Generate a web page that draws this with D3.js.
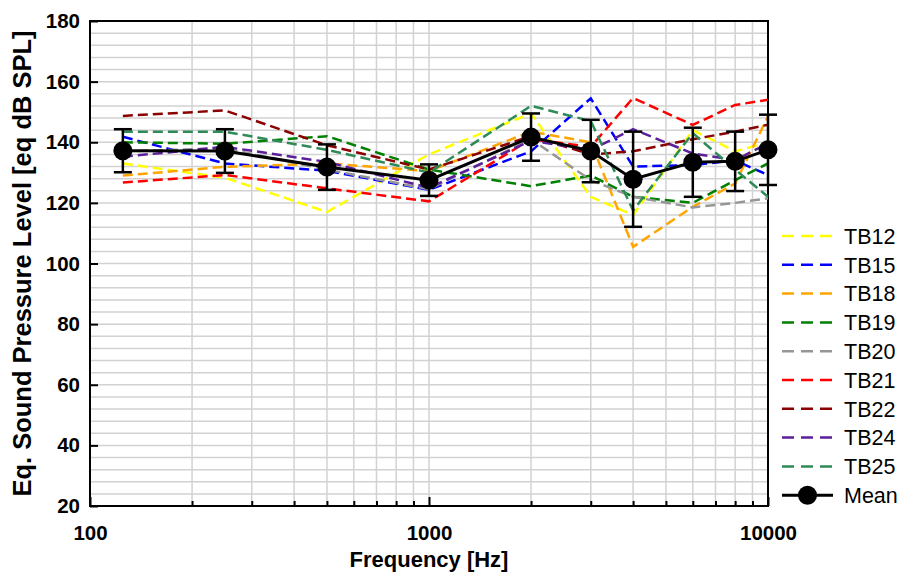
<!DOCTYPE html>
<html>
<head>
<meta charset="utf-8">
<script src="https://cdn.jsdelivr.net/npm/d3@7"></script>
<style>
  body { margin: 0; background: #fff; }
  text { font-family: Arial, "Liberation Sans", sans-serif; }
</style>
</head>
<body>
<svg id="chart" width="912" height="575"></svg>
<script>
// Test frequencies (Hz)
const freqs = [125, 250, 500, 1000, 2000, 3000, 4000, 6000, 8000, 10000];

// Equivalent SPL per subject [eq dB SPL]
const tb12 = [133.0, 128.3, 117.0, 136.0, 149.5, 122.0, 116.0, 144.0, 137.0, 140.0];
const tb15 = [141.8, 133.0, 130.6, 124.3, 137.0, 154.5, 132.0, 132.5, 134.0, 129.2];
const tb18 = [129.0, 131.9, 133.0, 130.5, 143.5, 140.0, 105.5, 118.7, 126.4, 148.5];
const tb19 = [140.0, 139.5, 142.0, 131.0, 125.5, 129.0, 122.0, 120.0, 127.5, 133.0];
const tb20 = [137.0, 138.0, 131.0, 124.5, 141.0, 127.5, 122.0, 118.5, 120.0, 121.5];
const tb21 = [126.7, 129.2, 124.8, 120.5, 141.0, 138.5, 154.6, 145.7, 152.3, 154.0];
const tb22 = [148.7, 150.5, 139.0, 131.0, 142.0, 136.0, 137.0, 141.0, 143.5, 145.8];
const tb24 = [135.2, 138.5, 133.5, 125.0, 140.5, 137.5, 144.3, 136.3, 134.1, 139.6];
const tb25 = [143.5, 143.5, 137.5, 130.0, 152.0, 147.0, 117.5, 143.0, 131.0, 122.0];

// Mean across subjects and its error bar half-width
const meanValues = [137.2, 137.1, 131.8, 127.5, 141.7, 137.1, 127.8, 133.4, 133.7, 137.5];
const meanErr    = [7.1, 7.2, 7.5, 5.2, 7.8, 10.3, 15.7, 11.4, 9.8, 11.6];

const seriesNames  = ["TB12", "TB15", "TB18", "TB19", "TB20", "TB21", "TB22", "TB24", "TB25"];
const seriesValues = [tb12, tb15, tb18, tb19, tb20, tb21, tb22, tb24, tb25];
const seriesColors = ["#ffff00", "#0000ff", "#ffa500", "#008000", "#969696", "#ff0000", "#8b0000", "#5b1f9c", "#2e8b57"];

const yTickValues = [20, 40, 60, 80, 100, 120, 140, 160, 180];
const xTickLabels = [100, 1000, 10000];

const svg = d3.select("#chart");
const plotL = 90, plotR = 768, plotT = 21, plotB = 506;

const x = d3.scaleLog().domain([100, 10000]).range([plotL, plotR]);
const y = d3.scaleLinear().domain([20, 180]).range([plotB, plotT]);

// Grid
const xMinor = [];
for (const dec of [100, 1000]) for (let k = 2; k <= 9; k++) xMinor.push(dec * k);
const yGrid = d3.range(24, 180, 4);

const grid = svg.append("g");
grid.selectAll("line.h").data(yGrid).join("line")
  .attr("x1", plotL).attr("x2", plotR)
  .attr("y1", d => y(d)).attr("y2", d => y(d))
  .attr("stroke", "#d2d2d2").attr("stroke-width", 1.5);
grid.selectAll("line.v").data(xMinor.concat([1000])).join("line")
  .attr("y1", plotT).attr("y2", plotB)
  .attr("x1", d => x(d)).attr("x2", d => x(d))
  .attr("stroke", "#d2d2d2").attr("stroke-width", 1.5);

// Axes with inward ticks
const yAxis = d3.axisLeft(y).tickValues(yTickValues).tickSize(-8).tickPadding(10);
const gy = svg.append("g").attr("transform", `translate(${plotL},0)`).call(yAxis);
gy.select(".domain").remove();
gy.selectAll(".tick line").attr("stroke", "#000").attr("stroke-width", 2);
gy.selectAll(".tick text").attr("font-size", 20.5).attr("font-weight", "bold").attr("fill", "#000");

const xAxisMinor = d3.axisBottom(x).tickValues(xMinor).tickSize(-5).tickFormat("");
const gxm = svg.append("g").attr("transform", `translate(0,${plotB})`).call(xAxisMinor);
gxm.select(".domain").remove();
gxm.selectAll(".tick line").attr("stroke", "#000").attr("stroke-width", 2);

const xAxis = d3.axisBottom(x).tickValues(xTickLabels).tickSize(-9).tickPadding(19)
  .tickFormat(d3.format("d"));
const gx = svg.append("g").attr("transform", `translate(0,${plotB})`).call(xAxis);
gx.select(".domain").remove();
gx.selectAll(".tick line").attr("stroke", "#000").attr("stroke-width", 2);
gx.selectAll(".tick text").attr("font-size", 20.5).attr("font-weight", "bold").attr("fill", "#000");

// Frame
svg.append("rect").attr("x", plotL).attr("y", plotT)
  .attr("width", plotR - plotL).attr("height", plotB - plotT)
  .attr("fill", "none").attr("stroke", "#000").attr("stroke-width", 2);

// Axis titles
svg.append("text").attr("x", (plotL + plotR) / 2).attr("y", 567)
  .attr("text-anchor", "middle").attr("font-size", 22).attr("font-weight", "bold")
  .text("Frequency [Hz]");
svg.append("text")
  .attr("transform", `translate(31,${(plotT + plotB) / 2}) rotate(-90)`)
  .attr("text-anchor", "middle").attr("font-size", 25.5).attr("font-weight", "bold")
  .text("Eq. Sound Pressure Level [eq dB SPL]");

// Subject lines
const line = d3.line().x((d, i) => x(freqs[i])).y(d => y(d));
const plot = svg.append("g");
seriesValues.forEach((vals, k) => {
  plot.append("path").datum(vals)
    .attr("d", line)
    .attr("fill", "none")
    .attr("stroke", seriesColors[k])
    .attr("stroke-width", 2.5)
    .attr("stroke-dasharray", "10,5");
});

// Mean with error bars
const meanG = svg.append("g");
meanG.append("path").datum(meanValues).attr("d", line)
  .attr("fill", "none").attr("stroke", "#000").attr("stroke-width", 3);
const eb = meanG.selectAll("g.eb").data(meanValues).join("g");
eb.append("line")
  .attr("x1", (d, i) => x(freqs[i])).attr("x2", (d, i) => x(freqs[i]))
  .attr("y1", (d, i) => y(d + meanErr[i])).attr("y2", (d, i) => y(d - meanErr[i]))
  .attr("stroke", "#000").attr("stroke-width", 2.5);
[1, -1].forEach(s => {
  eb.append("line")
    .attr("x1", (d, i) => x(freqs[i]) - 9).attr("x2", (d, i) => x(freqs[i]) + 9)
    .attr("y1", (d, i) => y(d + s * meanErr[i])).attr("y2", (d, i) => y(d + s * meanErr[i]))
    .attr("stroke", "#000").attr("stroke-width", 2.5);
});
meanG.selectAll("circle").data(meanValues).join("circle")
  .attr("cx", (d, i) => x(freqs[i])).attr("cy", d => y(d)).attr("r", 9.5)
  .attr("fill", "#000");

// Legend
const legend = svg.append("g");
const rowY = i => 236 + i * 28.8;
seriesNames.forEach((name, k) => {
  legend.append("line").attr("x1", 782).attr("x2", 833)
    .attr("y1", rowY(k)).attr("y2", rowY(k))
    .attr("stroke", seriesColors[k]).attr("stroke-width", 2.5)
    .attr("stroke-dasharray", "12,7");
  legend.append("text").attr("x", 844).attr("y", rowY(k)).attr("dy", "0.36em")
    .attr("font-size", 21.5).text(name);
});
const mi = seriesNames.length;
legend.append("line").attr("x1", 782).attr("x2", 833)
  .attr("y1", rowY(mi)).attr("y2", rowY(mi))
  .attr("stroke", "#000").attr("stroke-width", 3);
legend.append("circle").attr("cx", 807.5).attr("cy", rowY(mi)).attr("r", 9.5).attr("fill", "#000");
legend.append("text").attr("x", 844).attr("y", rowY(mi)).attr("dy", "0.36em")
  .attr("font-size", 21.5).text("Mean");
</script>
</body>
</html>
